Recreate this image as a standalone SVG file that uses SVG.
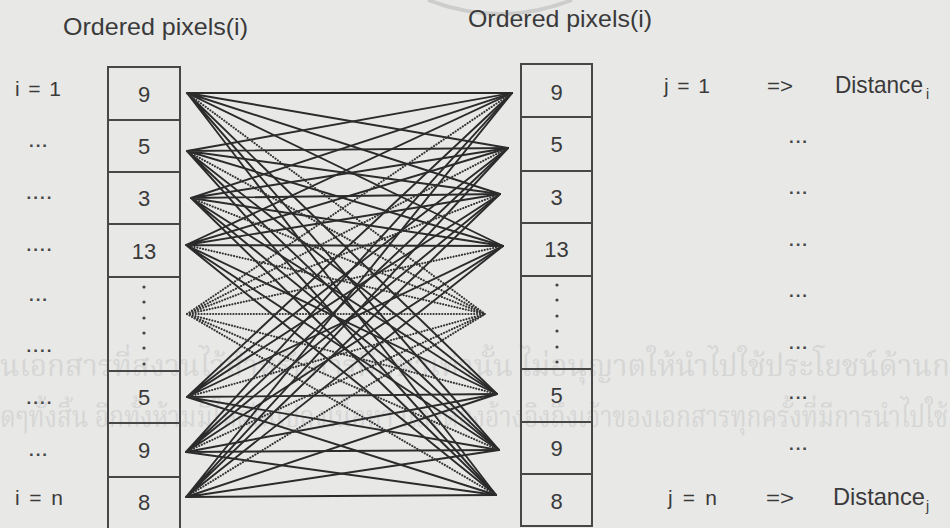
<svg xmlns="http://www.w3.org/2000/svg" width="950" height="528" viewBox="0 0 950 528">
<style>
  .t { font-family: "Liberation Sans", Arial, sans-serif; fill: #3a3a3a; }
  .title { font-size: 24px; }
  .lab { font-size: 21px; }
  .num { font-size: 22px; text-anchor: middle; }
  .dots { font-size: 17px; fill: #444; letter-spacing: 2px; text-anchor: middle; font-weight: bold; }
  .sub { font-size: 14px; }
  .cell { fill: none; stroke: #474747; stroke-width: 2; }
  .sep { stroke: #474747; stroke-width: 2; }
  .vd { fill: #444; }
  .solid { fill: none; stroke: #2b2b2b; stroke-width: 1.9; stroke-linecap: round; }
  .dotted { fill: none; stroke: #333; stroke-width: 2.1; stroke-dasharray: 0.1 2.8; stroke-linecap: round; }
  .wm { font-family: "Noto Serif Thai", "Noto Sans Thai", "Noto Sans", "DejaVu Sans", sans-serif; font-size: 30px; fill: #d6d6d5; }
</style>
<rect width="950" height="528" fill="#e8e8e7"/>
<path d="M428 0 Q 500 28 572 0" fill="none" stroke="#cdcdcd" stroke-width="4"/>
<g id="watermark">
  <text class="wm" x="0" y="376" textLength="950" lengthAdjust="spacingAndGlyphs">นเอกสารที่สงวนไว้สำหรับการศึกษาเท่านั้น ไม่อนุญาตให้นำไปใช้ประโยชน์ด้านก</text>
  <text class="wm" x="0" y="427" textLength="948" lengthAdjust="spacingAndGlyphs">ดๆทั้งสิ้น อีกทั้งห้ามมิให้ดัดแปลงเนื้อหา และต้องอ้างอิงถึงเจ้าของเอกสารทุกครั้งที่มีการนำไปใช้</text>
</g>
<g id="titles">
  <text class="t title" x="63" y="35" textLength="185" lengthAdjust="spacingAndGlyphs">Ordered pixels(i)</text>
  <text class="t title" x="468" y="27" textLength="184" lengthAdjust="spacingAndGlyphs">Ordered pixels(i)</text>
</g>
<g id="left-labels">
  <text class="t lab" x="15" y="96" textLength="46" lengthAdjust="spacing">i = 1</text>
  <text class="t dots" x="39" y="147">...</text>
  <text class="t dots" x="40" y="199">....</text>
  <text class="t dots" x="40" y="251">....</text>
  <text class="t dots" x="39" y="301">...</text>
  <text class="t dots" x="40" y="352">....</text>
  <text class="t dots" x="40" y="404">....</text>
  <text class="t dots" x="39" y="456">...</text>
  <text class="t lab" x="15" y="505" textLength="48" lengthAdjust="spacing">i = n</text>
</g>
<g id="left-column">
  <rect class="cell" x="108" y="67" width="72" height="463"/>
  <line class="sep" x1="108" y1="120" x2="180" y2="120"/>
  <line class="sep" x1="108" y1="172" x2="180" y2="172"/>
  <line class="sep" x1="108" y1="224" x2="180" y2="224"/>
  <line class="sep" x1="108" y1="277" x2="180" y2="277"/>
  <line class="sep" x1="108" y1="371" x2="180" y2="371"/>
  <line class="sep" x1="108" y1="423" x2="180" y2="423"/>
  <line class="sep" x1="108" y1="477" x2="180" y2="477"/>
  <text class="t num" x="144" y="102">9</text>
  <text class="t num" x="144" y="154">5</text>
  <text class="t num" x="144" y="206">3</text>
  <text class="t num" x="144" y="259">13</text>
  <circle class="vd" cx="144" cy="287" r="1.6"/>
  <circle class="vd" cx="144" cy="302" r="1.6"/>
  <circle class="vd" cx="144" cy="318" r="1.6"/>
  <circle class="vd" cx="144" cy="333" r="1.6"/>
  <circle class="vd" cx="144" cy="348" r="1.6"/>
  <circle class="vd" cx="144" cy="364" r="1.6"/>
  <text class="t num" x="144" y="405">5</text>
  <text class="t num" x="144" y="458">9</text>
  <text class="t num" x="144" y="510">8</text>
</g>
<g id="right-column">
  <rect class="cell" x="521" y="64" width="71" height="462"/>
  <line class="sep" x1="521" y1="117" x2="592" y2="117"/>
  <line class="sep" x1="521" y1="171" x2="592" y2="171"/>
  <line class="sep" x1="521" y1="223" x2="592" y2="223"/>
  <line class="sep" x1="521" y1="276" x2="592" y2="276"/>
  <line class="sep" x1="521" y1="369" x2="592" y2="369"/>
  <line class="sep" x1="521" y1="422" x2="592" y2="422"/>
  <line class="sep" x1="521" y1="474" x2="592" y2="474"/>
  <text class="t num" x="556.5" y="100">9</text>
  <text class="t num" x="556.5" y="152">5</text>
  <text class="t num" x="556.5" y="205">3</text>
  <text class="t num" x="556.5" y="257">13</text>
  <circle class="vd" cx="557" cy="285" r="1.6"/>
  <circle class="vd" cx="557" cy="300" r="1.6"/>
  <circle class="vd" cx="557" cy="316" r="1.6"/>
  <circle class="vd" cx="557" cy="331" r="1.6"/>
  <circle class="vd" cx="557" cy="347" r="1.6"/>
  <circle class="vd" cx="557" cy="362" r="1.6"/>
  <text class="t num" x="556.5" y="403">5</text>
  <text class="t num" x="556.5" y="456">9</text>
  <text class="t num" x="556.5" y="509">8</text>
</g>
<g id="right-labels">
  <text class="t lab" x="664" y="93" textLength="46" lengthAdjust="spacing">j = 1</text>
  <text class="t lab" x="767" y="93" textLength="26" lengthAdjust="spacingAndGlyphs">=&gt;</text>
  <text class="t lab" x="835" y="93" style="font-size:24px" textLength="88" lengthAdjust="spacingAndGlyphs">Distance</text>
  <text class="t sub" x="926" y="99">i</text>
  <text class="t dots" x="799" y="143">...</text>
  <text class="t dots" x="799" y="194">...</text>
  <text class="t dots" x="799" y="246">...</text>
  <text class="t dots" x="799" y="297">...</text>
  <text class="t dots" x="799" y="349">...</text>
  <text class="t dots" x="799" y="399">...</text>
  <text class="t dots" x="799" y="450">...</text>
  <text class="t lab" x="668" y="505" textLength="49" lengthAdjust="spacing">j = n</text>
  <text class="t lab" x="766" y="505" textLength="28" lengthAdjust="spacingAndGlyphs">=&gt;</text>
  <text class="t lab" x="833" y="505" style="font-size:24px" textLength="92" lengthAdjust="spacingAndGlyphs">Distance</text>
  <text class="t sub" x="926" y="511">j</text>
</g>
<g id="connectors">
  <path class="solid" d="M187 93L512 93M187 93L508 148M187 93L500 194M187 93L503 246M187 93L497 394M187 93L499 450M187 93L496 495"/>
  <path class="solid" d="M187 151L512 93M187 151L508 148M187 151L500 194M187 151L503 246M187 151L497 394M187 151L499 450M187 151L496 495"/>
  <path class="solid" d="M191 198L512 93M191 198L508 148M191 198L500 194M191 198L503 246M191 198L497 394M191 198L499 450M191 198L496 495"/>
  <path class="solid" d="M186 245L512 93M186 245L508 148M186 245L500 194M186 245L503 246M186 245L497 394M186 245L499 450M186 245L496 495"/>
  <path class="solid" d="M187 397L512 93M187 397L508 148M187 397L500 194M187 397L503 246M187 397L497 394M187 397L499 450M187 397L496 495"/>
  <path class="solid" d="M186 452L512 93M186 452L508 148M186 452L500 194M186 452L503 246M186 452L497 394M186 452L499 450M186 452L496 495"/>
  <path class="solid" d="M186 497L512 93M186 497L508 148M186 497L500 194M186 497L503 246M186 497L497 394M186 497L499 450M186 497L496 495"/>
  <path class="dotted" d="M187 314L512 93M187 314L508 148M187 314L500 194M187 314L503 246M187 314L485 314M187 314L497 394M187 314L499 450M187 314L496 495"/>
  <path class="dotted" d="M187 93L485 314M187 151L485 314M191 198L485 314M186 245L485 314M187 397L485 314M186 452L485 314M186 497L485 314"/>
</g>
</svg>
